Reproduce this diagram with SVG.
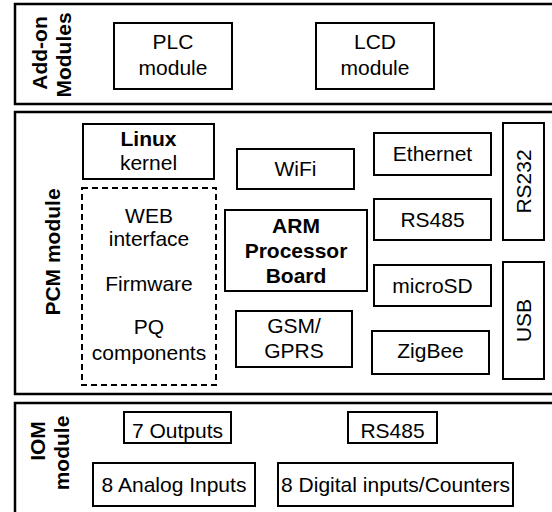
<svg xmlns="http://www.w3.org/2000/svg" width="552" height="512" viewBox="0 0 552 512">
<style>
.outer{fill:#fff;stroke:#000;stroke-width:2.5}
.box{fill:#fff;stroke:#000;stroke-width:2}
.dash{fill:none;stroke:#000;stroke-width:2;stroke-dasharray:6,4}
text{font-family:"Liberation Sans",Arial,sans-serif;font-size:21px;fill:#000;text-anchor:middle}
.b{font-weight:bold}
</style>
<rect width="552" height="512" fill="#fff"/>
<g id="addon">
<rect class="outer" x="15" y="4" width="545" height="100"/>
<text class="b" transform="translate(47,53) rotate(-90)">Add-on</text>
<text class="b" transform="translate(71,55) rotate(-90)">Modules</text>
</g>
<g id="plc"><rect class="box" x="114" y="23" width="118" height="66"/><text x="173" y="49">PLC</text><text x="173" y="75">module</text></g>
<g id="lcd"><rect class="box" x="316" y="23" width="118" height="66"/><text x="375" y="49">LCD</text><text x="375" y="75">module</text></g>
<g id="pcm">
<rect class="outer" x="15" y="112" width="545" height="282"/>
<text class="b" transform="translate(60,252) rotate(-90)">PCM module</text>
</g>
<g id="linux"><rect class="box" x="83" y="124" width="131" height="55"/><text class="b" x="148.5" y="146">Linux</text><text x="148.5" y="170">kernel</text></g>
<g id="software">
<rect class="dash" x="82" y="188" width="134" height="197"/>
<text x="149" y="223">WEB</text><text x="149" y="246">interface</text>
<text x="149" y="291">Firmware</text>
<text x="149" y="334">PQ</text><text x="149" y="360">components</text>
</g>
<g id="wifi"><rect class="box" x="237" y="149" width="117" height="40"/><text x="295.5" y="176">WiFi</text></g>
<g id="arm"><rect class="box" x="225" y="210" width="142" height="81"/><text class="b" x="296" y="233">ARM</text><text class="b" x="296" y="258">Processor</text><text class="b" x="296" y="283">Board</text></g>
<g id="gsm"><rect class="box" x="236" y="311" width="116" height="56"/><text x="294" y="333">GSM/</text><text x="294" y="358">GPRS</text></g>
<g id="ethernet"><rect class="box" x="374" y="133" width="117" height="42"/><text x="432.5" y="161">Ethernet</text></g>
<g id="rs485a"><rect class="box" x="374" y="199" width="117" height="41"/><text x="432.5" y="227">RS485</text></g>
<g id="microsd"><rect class="box" x="374" y="265" width="117" height="41"/><text x="432.5" y="293">microSD</text></g>
<g id="zigbee"><rect class="box" x="372" y="331" width="117" height="43"/><text x="430.5" y="358">ZigBee</text></g>
<g id="rs232"><rect class="box" x="503" y="123" width="41" height="117"/><text transform="translate(531,181.5) rotate(-90)">RS232</text></g>
<g id="usb"><rect class="box" x="503" y="262" width="41" height="117"/><text transform="translate(531,320.5) rotate(-90)">USB</text></g>
<g id="iom">
<rect class="outer" x="15" y="403" width="545" height="120"/>
<text class="b" transform="translate(45,441) rotate(-90)">IOM</text>
<text class="b" transform="translate(69,453) rotate(-90)">module</text>
</g>
<g id="outputs"><rect class="box" x="124" y="412" width="107" height="31"/><text x="177.5" y="438">7 Outputs</text></g>
<g id="rs485b"><rect class="box" x="348" y="412" width="89" height="31"/><text x="392.5" y="438">RS485</text></g>
<g id="analog"><rect class="box" x="93" y="463" width="162" height="43"/><text x="174" y="492">8 Analog Inputs</text></g>
<g id="digital"><rect class="box" x="278" y="463" width="235" height="43"/><text x="395.5" y="492">8 Digital inputs/Counters</text></g>
<g id="connectors"/>
</svg>
